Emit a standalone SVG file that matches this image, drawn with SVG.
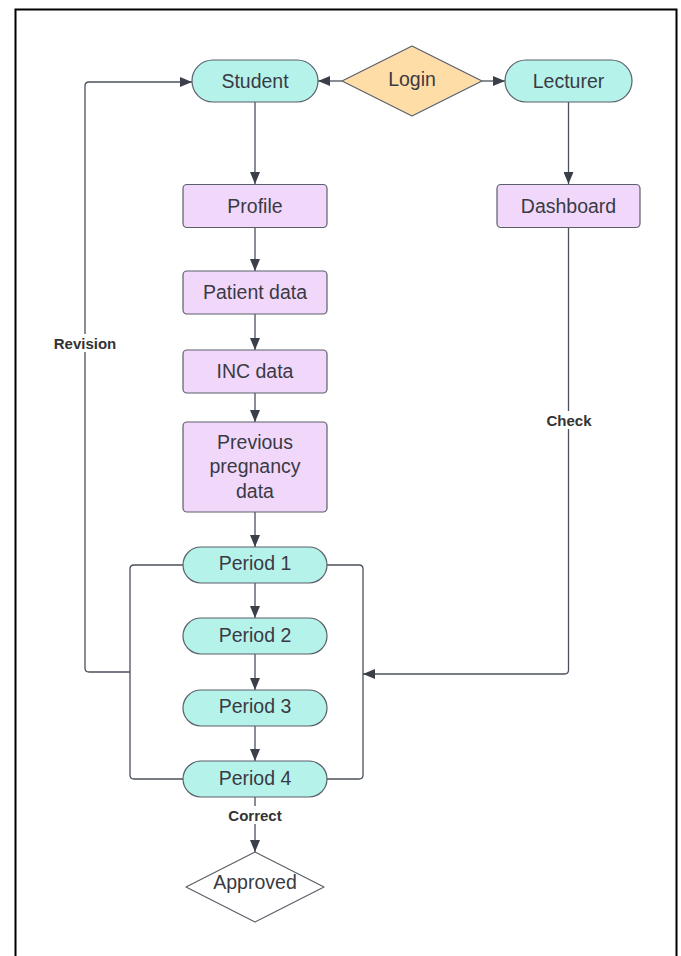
<svg xmlns="http://www.w3.org/2000/svg" width="681" height="956" viewBox="0 0 681 956">
<style>
.t{font-family:"Liberation Sans",Arial,sans-serif;font-size:19.5px;fill:#3a3a45;text-anchor:middle;dominant-baseline:central}
.lb{font-family:"Liberation Sans",Arial,sans-serif;font-size:15px;font-weight:bold;fill:#333;text-anchor:middle;dominant-baseline:central}
.teal{fill:#B5F3EA;stroke:#5a5f6a;stroke-width:1.2}
.pur{fill:#F1D8FB;stroke:#5a5f6a;stroke-width:1.2}
.org{fill:#FFDDA6;stroke:#5a5f6a;stroke-width:1.2}
.wht{fill:#fff;stroke:#5a5f6a;stroke-width:1.2}
.c{fill:none;stroke:#4a505c;stroke-width:1.3}
</style>
<defs>
<marker id="ah" viewBox="0 0 12 10" refX="12" refY="5" markerWidth="12" markerHeight="10" markerUnits="userSpaceOnUse" orient="auto">
<path d="M0,0 L12,5 L0,10 Z" fill="#3a3f4a"/>
</marker>
</defs>
<rect x="0" y="0" width="681" height="956" fill="#fff"/>
<rect x="15.5" y="9.5" width="661" height="960" fill="none" stroke="#000" stroke-width="2"/>
<g id="connectors">
<line class="c" x1="342" y1="81" x2="318" y2="81" marker-end="url(#ah)"/>
<line class="c" x1="482" y1="81" x2="505" y2="81" marker-end="url(#ah)"/>
<line class="c" x1="255" y1="102" x2="255" y2="184" marker-end="url(#ah)"/>
<line class="c" x1="568.5" y1="102" x2="568.5" y2="184" marker-end="url(#ah)"/>
<line class="c" x1="255" y1="228" x2="255" y2="271" marker-end="url(#ah)"/>
<line class="c" x1="255" y1="314" x2="255" y2="350" marker-end="url(#ah)"/>
<line class="c" x1="255" y1="393" x2="255" y2="422" marker-end="url(#ah)"/>
<line class="c" x1="255" y1="512" x2="255" y2="547" marker-end="url(#ah)"/>
<line class="c" x1="255" y1="583" x2="255" y2="618" marker-end="url(#ah)"/>
<line class="c" x1="255" y1="654" x2="255" y2="690" marker-end="url(#ah)"/>
<line class="c" x1="255" y1="726" x2="255" y2="761" marker-end="url(#ah)"/>
<path class="c" d="M183,565 H134 Q130,565 130,569 V775 Q130,779 134,779 H183"/>
<path class="c" d="M327,565 H359 Q363,565 363,569 V775 Q363,779 359,779 H327"/>
<path class="c" d="M130,672 H89 Q85,672 85,668 V86 Q85,82 89,82 H192" marker-end="url(#ah)"/>
<path class="c" d="M568.5,228 V670 Q568.5,674 564.5,674 H363" marker-end="url(#ah)"/>
<line class="c" x1="255" y1="797" x2="255" y2="852" marker-end="url(#ah)"/>
<rect x="45" y="334" width="80" height="18" fill="#fff"/>
<text class="lb" x="85" y="343">Revision</text>
<rect x="538" y="411" width="62" height="18" fill="#fff"/>
<text class="lb" x="569" y="420">Check</text>
<rect x="220" y="806" width="70" height="18" fill="#fff"/>
<text class="lb" x="255" y="815">Correct</text>
</g>
<g id="student"><rect class="teal" x="192" y="60" width="126" height="42" rx="21"/><text class="t" x="255" y="81">Student</text></g>
<g id="login"><path class="org" d="M412,46 L482,81 L412,116 L342,81 Z" stroke-linejoin="round"/><text class="t" x="412" y="79">Login</text></g>
<g id="lecturer"><rect class="teal" x="505" y="60" width="127" height="42" rx="21"/><text class="t" x="568.5" y="81">Lecturer</text></g>
<g id="profile"><rect class="pur" x="183" y="184.5" width="144" height="43" rx="4"/><text class="t" x="255" y="206">Profile</text></g>
<g id="dashboard"><rect class="pur" x="497" y="184.5" width="143" height="43" rx="4"/><text class="t" x="568.5" y="206">Dashboard</text></g>
<g id="patient"><rect class="pur" x="183" y="271" width="144" height="43" rx="4"/><text class="t" x="255" y="292">Patient data</text></g>
<g id="inc"><rect class="pur" x="183" y="350" width="144" height="43" rx="4"/><text class="t" x="255" y="371">INC data</text></g>
<g id="previous"><rect class="pur" x="183" y="422" width="144" height="90" rx="4"/><text class="t" x="255" y="442">Previous</text><text class="t" x="255" y="466">pregnancy</text><text class="t" x="255" y="491">data</text></g>
<g id="period1"><rect class="teal" x="183" y="547" width="144" height="36" rx="18"/><text class="t" x="255" y="563">Period 1</text></g>
<g id="period2"><rect class="teal" x="183" y="618" width="144" height="36" rx="18"/><text class="t" x="255" y="635">Period 2</text></g>
<g id="period3"><rect class="teal" x="183" y="690" width="144" height="36" rx="18"/><text class="t" x="255" y="706">Period 3</text></g>
<g id="period4"><rect class="teal" x="183" y="761" width="144" height="36" rx="18"/><text class="t" x="255" y="778">Period 4</text></g>
<g id="approved"><path class="wht" d="M255,852 L324,887 L255,922 L186,887 Z" stroke-linejoin="round"/><text class="t" x="255" y="882">Approved</text></g>
</svg>
